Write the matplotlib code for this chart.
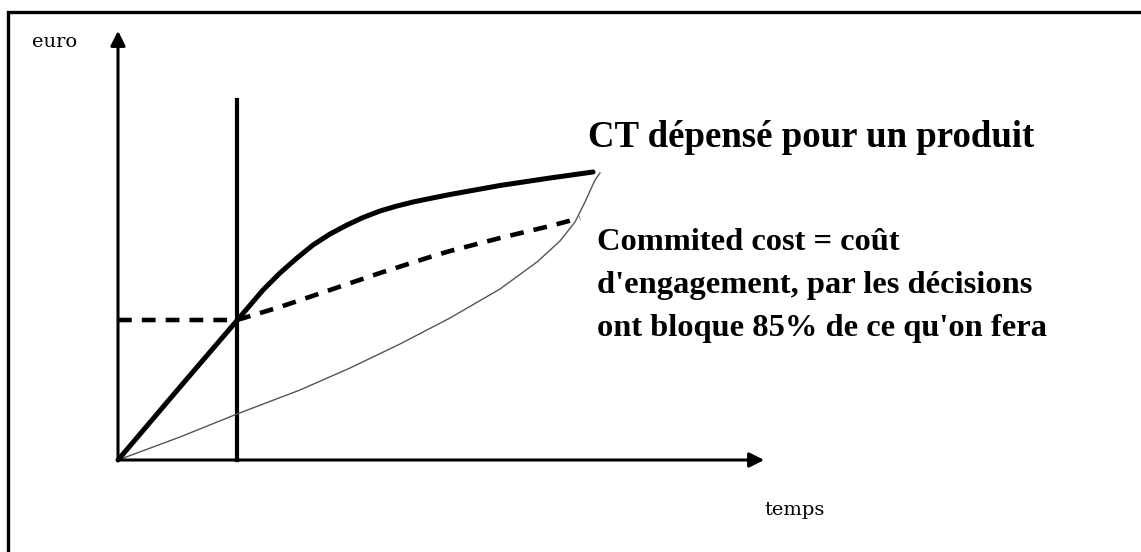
import matplotlib.pyplot as plt

# values (pixel-like frame, y grows downward)
origin = (118, 460)
y_axis_top = 28
x_axis_end = 767
decision_x = 237
decision_top = 100

ct_x = [118, 180, 240, 263, 280, 297, 313, 330, 347, 363, 380, 397, 413, 430,
        450, 500, 550, 593]
ct_y = [460, 387, 317, 290, 273, 258, 245, 234, 225, 217.5, 211, 206, 202, 198.5,
        194.5, 185.5, 178, 172]

committed_x = [118, 237, 280, 330, 380, 430, 450, 500, 550, 580]
committed_y = [320, 320, 307, 290, 273, 257, 251, 238, 226, 218]

thin_x = [118, 180, 237, 300, 350, 400, 450, 500, 537, 560, 575, 585, 595, 600]
thin_y = [460, 437, 414, 390, 368, 344, 318, 289, 262, 241, 222, 202, 180, 173]

label_ct = "CT dépensé pour un produit"
label_committed = ["Commited cost = coût",
                   "d'engagement, par les décisions",
                   "ont bloque 85% de ce qu'on fera"]

fig = plt.figure(figsize=(11.41, 5.52), dpi=100)
ax = fig.add_axes([0, 0, 1, 1])
ax.set_xlim(0, 1141)
ax.set_ylim(552, 0)
ax.axis("off")

# frame (only left and top visible)
ax.plot([8, 8, 1141], [552, 12, 12], color="black", lw=2.4, solid_joinstyle="miter")

# axes with arrows
ax.annotate("", xy=(origin[0], y_axis_top), xytext=origin,
            arrowprops=dict(arrowstyle="-|>", lw=2.2, color="black", mutation_scale=22))
ax.annotate("", xy=(x_axis_end, origin[1]), xytext=origin,
            arrowprops=dict(arrowstyle="-|>", lw=2.2, color="black", mutation_scale=22))

# decision line
ax.plot([decision_x, decision_x], [decision_top, origin[1]], color="black", lw=3)

# curves
ax.plot(thin_x, thin_y, color="#555555", lw=1)
ax.plot(committed_x, committed_y, color="black", lw=3.3, dashes=(3, 2.2))
ax.plot(ct_x, ct_y, color="black", lw=3.6, solid_capstyle="round")

# labels
ax.text(55, 42, "euro", fontsize=14, family="DejaVu Serif", ha="center", va="center")
ax.text(795, 510, "temps", fontsize=14, family="DejaVu Serif", ha="center", va="center")
ax.text(588, 147, label_ct, fontsize=26.5, family="Liberation Serif",
        weight="bold", ha="left", va="baseline")
for i, line in enumerate(label_committed):
    ax.text(597, 250 + 43 * i, line, fontsize=23.4, family="Liberation Serif",
            weight="bold", ha="left", va="baseline")

plt.savefig("out.png", dpi=100)
